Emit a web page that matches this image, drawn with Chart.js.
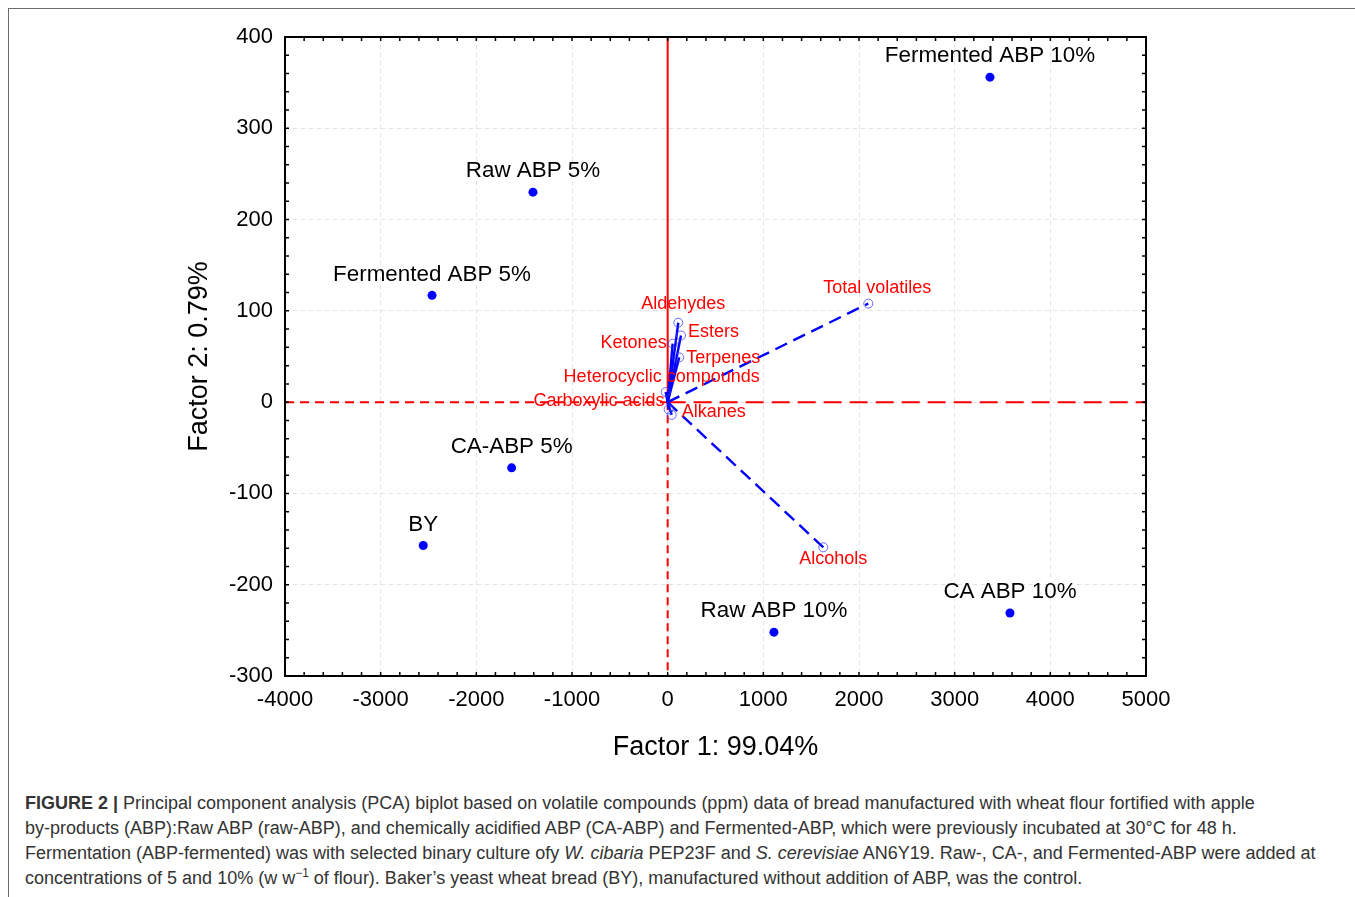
<!DOCTYPE html>
<html><head><meta charset="utf-8">
<script src="https://cdn.jsdelivr.net/npm/chart.js@4"></script>
<style>
html,body{margin:0;padding:0;background:#fff;}
body{width:1355px;height:897px;position:relative;overflow:hidden;font-family:"Liberation Sans",Arial,sans-serif;}
#frame{position:absolute;left:8px;top:8px;width:1400px;height:950px;border-top:1.5px solid #6b6b6b;border-left:1.5px solid #6b6b6b;}
#c{position:absolute;left:0;top:0;}
#cap{position:absolute;left:25px;top:791px;font-size:18px;line-height:25px;color:#333;white-space:nowrap;}
#cap sup{font-size:12px;line-height:0;vertical-align:7px;}
</style></head>
<body>
<div id="frame"></div>
<canvas id="c" width="1355" height="780"></canvas>
<div id="cap"><b>FIGURE 2 |</b> Principal component analysis (PCA) biplot based on volatile compounds (ppm) data of bread manufactured with wheat flour fortified with apple<br>by-products (ABP):Raw ABP (raw-ABP), and chemically acidified ABP (CA-ABP) and Fermented-ABP, which were previously incubated at 30°C for 48 h.<br>Fermentation (ABP-fermented) was with selected binary culture ofy <i>W. cibaria</i> PEP23F and <i>S. cerevisiae</i> AN6Y19. Raw-, CA-, and Fermented-ABP were added at<br>concentrations of 5 and 10% (w w<sup>−1</sup> of flour). Baker’s yeast wheat bread (BY), manufactured without addition of ABP, was the control.</div>
<script>
// ---- data ----
const scoreLabels = ["Fermented ABP 10%","Raw ABP 5%","Fermented ABP 5%","CA-ABP 5%","BY","Raw ABP 10%","CA ABP 10%"];
const scoreX = [3369,-1408,-2463,-1631,-2555,1111,3578];
const scoreY = [356,230,117,-72,-157,-252,-231];

const loadingLabels = ["Total volatiles","Alcohols","Aldehydes","Esters","Ketones","Terpenes","Heterocyclic compounds","Carboxylic acids","Alkanes"];
const loadingX = [2097,1627,111,139,52,121,-21,10,42];
const loadingY = [108,-159,87,73,64,49,11,-8,-14];

const xRange = [-4000,5000];
const yRange = [-300,400];
const xTickStep = 1000, yTickStep = 100;
const xMinorStep = 200, yMinorStep = 20;
const xTitle = "Factor 1: 99.04%";
const yTitle = "Factor 2: 0.79%";

// ---- styles (not data) ----
const FONT = '"Liberation Sans", Arial, Helvetica, sans-serif';
const BLUE = 'rgb(0,0,255)';
const RED = 'rgb(255,0,0)';
const vectorDashed = [true,true,false,false,false,false,false,false,false];
// label placement: [dx, dy, align]
const loadingLabelStyle = [
  [9,-16,'center'],[10,12,'center'],[5,-19,'center'],[7,-3,'left'],[-6,-1,'right'],
  [7,1,'left'],[-4,-15,'center'],[-4,-8,'right'],[10,-3,'left']
];

const datasets = [];
datasets.push({
  data: scoreX.map((x,i)=>({x, y: scoreY[i]})),
  pointRadius: 4.5, pointBackgroundColor: BLUE, pointBorderColor: BLUE, pointBorderWidth: 0,
  showLine: false, order: 0
});
datasets.push({
  data: loadingX.map((x,i)=>({x, y: loadingY[i]})),
  pointRadius: 4.5, pointBackgroundColor: 'rgba(0,0,0,0)', pointBorderColor: 'rgba(60,60,255,0.75)', pointBorderWidth: 1,
  showLine: false, order: 1
});
loadingX.forEach((x,i)=>{
  datasets.push({
    data: [{x:0,y:0},{x, y: loadingY[i]}],
    showLine: true, pointRadius: 0, borderColor: BLUE, borderWidth: 2.4,
    borderDash: vectorDashed[i] ? [13,7] : [], order: 2
  });
});
const redLine = (pts, dash) => ({data: pts, showLine: true, pointRadius: 0, borderColor: RED, borderWidth: 2, borderDash: dash, order: 3});
datasets.push(redLine([{x:0,y:yRange[1]},{x:0,y:0}], []));
datasets.push(redLine([{x:0,y:0},{x:0,y:yRange[0]}], [8,5]));
datasets.push(redLine([{x:xRange[0],y:0},{x:0,y:0}], [9,6]));
datasets.push(redLine([{x:0,y:0},{x:xRange[1],y:0}], [18,8]));

const decor = {
  id: 'decor',
  afterDatasetsDraw(chart) {
    const {ctx, chartArea: a, scales: {x, y}} = chart;
    ctx.save();
    // frame
    ctx.strokeStyle = '#000'; ctx.lineWidth = 2;
    ctx.strokeRect(a.left, a.top, a.right - a.left, a.bottom - a.top);
    // inward ticks
    ctx.lineWidth = 1.5;
    ctx.beginPath();
    for (let v = xRange[0]; v <= xRange[1]; v += xMinorStep) {
      const px = x.getPixelForValue(v);
      ctx.moveTo(px, a.bottom); ctx.lineTo(px, a.bottom - 4);
      ctx.moveTo(px, a.top); ctx.lineTo(px, a.top + 4);
    }
    for (let v = yRange[0]; v <= yRange[1]; v += yMinorStep) {
      const py = y.getPixelForValue(v);
      ctx.moveTo(a.left, py); ctx.lineTo(a.left + 4, py);
      ctx.moveTo(a.right, py); ctx.lineTo(a.right - 4, py);
    }
    ctx.stroke();
    // score labels
    ctx.fillStyle = '#000';
    ctx.font = '22.4px ' + FONT;
    ctx.textAlign = 'center'; ctx.textBaseline = 'middle';
    scoreLabels.forEach((t,i)=>{
      ctx.fillText(t, x.getPixelForValue(scoreX[i]), y.getPixelForValue(scoreY[i]) - 21);
    });
    // loading labels
    ctx.fillStyle = RED;
    ctx.font = '18px ' + FONT;
    loadingLabels.forEach((t,i)=>{
      const [dx,dy,al] = loadingLabelStyle[i];
      ctx.textAlign = al;
      ctx.fillText(t, x.getPixelForValue(loadingX[i]) + dx, y.getPixelForValue(loadingY[i]) + dy);
    });
    ctx.restore();
  }
};

new Chart(document.getElementById('c'), {
  type: 'scatter',
  data: { datasets },
  plugins: [decor],
  options: {
    responsive: false, animation: false,
    layout: { padding: { left: 0, top: 37, right: 209, bottom: 0 } },
    plugins: { legend: { display: false }, tooltip: { enabled: false } },
    scales: {
      x: {
        type: 'linear', min: xRange[0], max: xRange[1],
        ticks: { stepSize: xTickStep, padding: 11, color: '#000', font: { family: FONT, size: 22 }, callback: v => String(v), maxRotation: 0 },
        grid: { color: '#e2e2e2', drawTicks: false, lineWidth: 1 },
        border: { display: false, dash: [4,4] },
        title: { display: true, text: xTitle, color: '#000', font: { family: FONT, size: 27 }, padding: { top: 0, bottom: 16 } },
        afterFit: s => { s.height = 104; }
      },
      y: {
        type: 'linear', min: yRange[0], max: yRange[1],
        ticks: { stepSize: yTickStep, padding: 12, color: '#000', font: { family: FONT, size: 22 }, callback: v => String(v) },
        grid: { color: '#e2e2e2', drawTicks: false, lineWidth: 1 },
        border: { display: false, dash: [4,4] },
        title: { display: true, text: yTitle, color: '#000', font: { family: FONT, size: 27 }, padding: { top: 183, bottom: 0 } },
        afterFit: s => { s.width = 285; }
      }
    }
  }
});
</script>
</body></html>
